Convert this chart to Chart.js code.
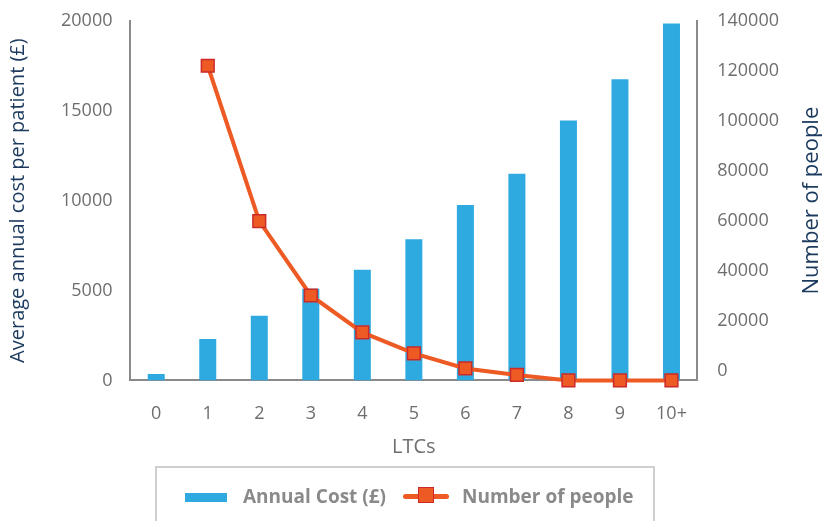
<!DOCTYPE html>
<html>
<head>
<meta charset="utf-8">
<script src="https://cdn.jsdelivr.net/npm/chart.js@4.4.0/dist/chart.umd.min.js"></script>
<style>
    html, body { margin: 0; padding: 0; background: #fff; }
    #wrap { position: relative; width: 822px; height: 521px; overflow: hidden; }
    #chart { position: absolute; left: 0; top: -10px; }
    #legend {
        position: absolute; left: 155px; top: 466px; width: 500px; height: 70px;
        border: 2px solid #cfcfcf; box-sizing: border-box;
        font-family: "Open Sans", sans-serif; font-weight: bold; font-size: 19px; color: #8a8a8a;
    }
    .item { position: absolute; top: 16px; line-height: 24px; }
    .barIcon { position: absolute; top: 25px; width: 42px; height: 9px; background: #2eaae1; }
    .lineIcon { position: absolute; top: 26px; width: 46px; height: 5px; background: #ee5a24; border-radius: 3px; }
    .lineIcon span { position: absolute; left: 15px; top: -7px; width: 16px; height: 16px; background: #ee5a24; border: 1.5px solid #cc2a2a; box-sizing: border-box; }
</style>
</head>
<body>
<div id="wrap">
    <canvas id="chart" width="822" height="531"></canvas>
    <div id="legend">
        <div class="barIcon" style="left:28px"></div>
        <div class="item" style="left:86px">Annual Cost (£)</div>
        <div class="lineIcon" style="left:246px"><span></span></div>
        <div class="item" style="left:305px">Number of people</div>
    </div>
</div>
<script>
    // data
    var ltcs = ['0', '1', '2', '3', '4', '5', '6', '7', '8', '9', '10+'];
    var annualCost = [350, 2300, 3600, 5100, 6150, 7850, 9750, 11500, 14450, 16750, 19850];
    var numberOfPeople = [null, 122000, 59800, 30000, 15200, 6800, 800, -1800, -4000, -4000, -4000];
    var costTicks = [0, 5000, 10000, 15000, 20000];
    var peopleTicks = [0, 20000, 40000, 60000, 80000, 100000, 120000, 140000];

    var tickFont = { family: 'Open Sans', size: 18 };
    var titleFont = { family: 'Open Sans', size: 20 };

    // right axis title reads bottom-to-top, so draw it by hand
    var rightTitle = {
        id: 'rightTitle',
        afterDraw: function (chart) {
            var c = chart.ctx, area = chart.chartArea;
            c.save();
            c.translate(812, (area.top + area.bottom) / 2);
            c.rotate(-Math.PI / 2);
            c.font = '22px "Open Sans"';
            c.fillStyle = '#1b3a5e';
            c.textAlign = 'center';
            c.textBaseline = 'middle';
            c.fillText('Number of people', 0, 0);
            c.restore();
        }
    };

    var ctx = document.getElementById('chart').getContext('2d');
    var myChart = new Chart(ctx, {
        type: 'bar',
        data: {
            labels: ltcs,
            datasets: [{
                type: 'line',
                label: 'Number of people',
                data: numberOfPeople,
                yAxisID: 'y1',
                borderColor: '#ee5a24',
                backgroundColor: '#ee5a24',
                borderWidth: 4,
                tension: 0,
                pointStyle: 'rect',
                pointRadius: 9,
                pointBorderColor: '#cc2a2a',
                pointBorderWidth: 1.5,
                pointBackgroundColor: '#ee5a24',
                order: 0,
                clip: false
            }, {
                label: 'Annual Cost (£)',
                data: annualCost,
                yAxisID: 'y',
                backgroundColor: '#2eaae1',
                categoryPercentage: 1,
                barPercentage: 0.33,
                order: 1
            }]
        },
        options: {
            responsive: false,
            animation: false,
            layout: { padding: { left: 2, right: 23, top: 0, bottom: 58 } },
            plugins: { legend: { display: false }, tooltip: { enabled: false } },
            scales: {
                x: {
                    grid: { display: false, drawTicks: false },
                    border: { color: '#8a8a8a', width: 2 },
                    ticks: { color: '#6e6e6e', font: tickFont, padding: 23 },
                    title: { display: true, text: 'LTCs', color: '#6e6e6e', font: titleFont, padding: { top: -13 } }
                },
                y: {
                    position: 'left',
                    min: 0,
                    max: 20000,
                    afterBuildTicks: function (axis) {
                        axis.ticks = costTicks.map(function (v) { return { value: v }; });
                    },
                    grid: { display: false, drawTicks: false },
                    border: { color: '#8a8a8a', width: 2 },
                    ticks: { color: '#6e6e6e', font: tickFont, padding: 18, callback: function (v) { return String(v); } },
                    title: { display: true, text: 'Average annual cost per patient (£)', color: '#1b3a5e', font: titleFont, padding: { top: 4, bottom: 13 } }
                },
                y1: {
                    position: 'right',
                    min: -4000,
                    max: 140000,
                    afterBuildTicks: function (axis) {
                        axis.ticks = peopleTicks.map(function (v) { return { value: v }; });
                    },
                    grid: { display: false, drawTicks: false },
                    border: { color: '#8a8a8a', width: 2 },
                    ticks: { color: '#6e6e6e', font: tickFont, padding: 20, callback: function (v) { return String(v); } }
                }
            }
        },
        plugins: [rightTitle]
    });
</script>
</body>
</html>
